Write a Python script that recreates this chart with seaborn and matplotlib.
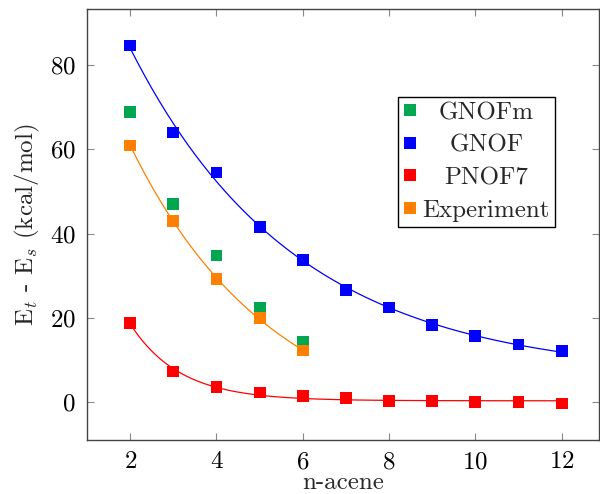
import numpy as np
import pandas as pd
import matplotlib
matplotlib.use("Agg")
import matplotlib.pyplot as plt
import seaborn as sns

# ---- data ----
x_short = [2, 3, 4, 5, 6]
x_long = [2, 3, 4, 5, 6, 7, 8, 9, 10, 11, 12]
gnofm = [68.8, 47.0, 34.8, 22.4, 14.3]
gnof = [84.6, 64.0, 54.5, 41.5, 33.8, 26.7, 22.5, 18.3, 15.8, 13.7, 12.2]
pnof7 = [18.8, 7.3, 3.7, 2.3, 1.5, 1.1, 0.4, 0.4, 0.1, 0.0, -0.3]
experiment = [60.9, 43.0, 29.3, 19.9, 12.3]

series_names = ["GNOFm", "GNOF", "PNOF7", "Experiment"]
colors = {"GNOFm": "#00A650", "GNOF": "#0000FF", "PNOF7": "#FF0000", "Experiment": "#FF8000"}
x_ticks = [2, 4, 6, 8, 10, 12]
y_ticks = [0, 20, 40, 60, 80]

df = pd.concat([
    pd.DataFrame({"x": x_short, "y": gnofm, "s": "GNOFm"}),
    pd.DataFrame({"x": x_long, "y": gnof, "s": "GNOF"}),
    pd.DataFrame({"x": x_long, "y": pnof7, "s": "PNOF7"}),
    pd.DataFrame({"x": x_short, "y": experiment, "s": "Experiment"}),
], ignore_index=True)


def fit_curve(xs, ys):
    """Least-squares fit y = a*exp(-b x) + c, returns smooth curve over data range."""
    xs = np.asarray(xs, float)
    ys = np.asarray(ys, float)
    best = None
    for b in np.linspace(0.02, 3.0, 1500):
        A = np.column_stack([np.exp(-b * xs), np.ones_like(xs)])
        coef, *_ = np.linalg.lstsq(A, ys, rcond=None)
        r = np.sum((A @ coef - ys) ** 2)
        if best is None or r < best[0]:
            best = (r, b, coef)
    _, b, (a, c) = best
    xx = np.linspace(xs.min(), xs.max(), 300)
    return xx, a * np.exp(-b * xx) + c


sns.set_theme(style="ticks")
plt.rcParams["font.family"] = ["cmr10", "DejaVu Serif"]
plt.rcParams["mathtext.fontset"] = "cm"
plt.rcParams["axes.formatter.use_mathtext"] = True
plt.rcParams["axes.unicode_minus"] = False

FS = 18

fig = plt.figure(figsize=(6.0, 4.94), dpi=100)
ax = fig.add_axes([0.145, 0.1093, 0.853, 0.8719])

# fitted lines
for name, xs, ys in [("GNOF", x_long, gnof), ("PNOF7", x_long, pnof7),
                     ("Experiment", x_short, experiment)]:
    xx, yy = fit_curve(xs, ys)
    ax.plot(xx, yy, color=colors[name], lw=0.9, zorder=2)

sns.scatterplot(data=df, x="x", y="y", hue="s", hue_order=series_names,
                palette=colors, marker="s", s=72, linewidth=0,
                ax=ax, zorder=3)

ax.set_xlim(1.0, 12.86)
ax.set_ylim(-8.94, 93.2)
ax.set_xticks(x_ticks)
ax.set_yticks(y_ticks)
ax.tick_params(direction="in", length=5, width=0.8, color="#888888",
               labelsize=FS, top=True, right=True, pad=8, labelcolor="black")
for sp in ax.spines.values():
    sp.set_color("#444444")
    sp.set_linewidth(1.0)
    sp.set_visible(True)

ax.set_xlabel("n-acene", fontsize=FS, labelpad=-1)
ax.set_ylabel(r"E$_t$ - E$_s$ (kcal/mol)", fontsize=FS, labelpad=6)

handles, labels = ax.get_legend_handles_labels()
leg = ax.legend(handles, labels, loc="upper left", bbox_to_anchor=(0.607, 0.797),
                borderaxespad=0, fontsize=FS, frameon=True, fancybox=False,
                framealpha=1, edgecolor="black", handlelength=0.55,
                handletextpad=0.25, borderpad=0.2, labelspacing=0.4,
                markerscale=1.0)
leg.get_frame().set_linewidth(1.0)

# centre legend texts within the text column (as in the original)
renderer = fig.canvas.get_renderer()
texts = leg.get_texts()
widths = [t.get_window_extent(renderer).width for t in texts]
wmax = max(widths)
for t, w in zip(texts, widths):
    t.set_x((wmax - w) / 2.0)

fig.savefig("out.png", dpi=100)
